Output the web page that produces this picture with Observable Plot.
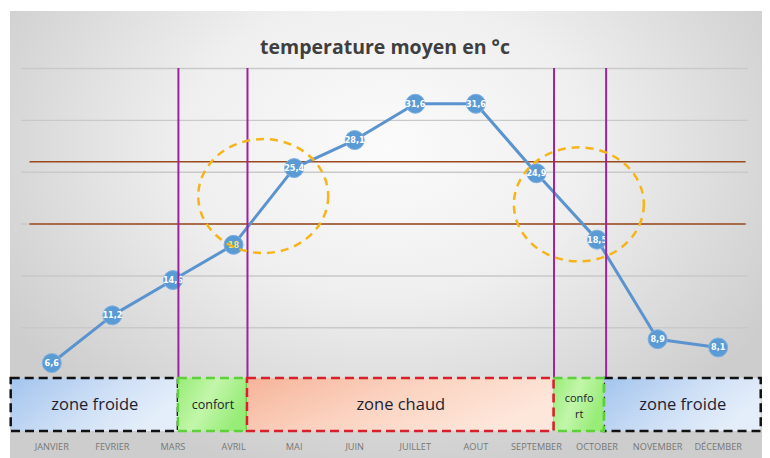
<!DOCTYPE html>
<html>
<head>
<meta charset="utf-8">
<script src="https://cdn.jsdelivr.net/npm/d3@7"></script>
<script src="https://cdn.jsdelivr.net/npm/@observablehq/plot@0.6"></script>
<style>
  html, body { margin: 0; padding: 0; background: #ffffff; }
  #wrap { position: relative; width: 770px; height: 458px; overflow: hidden; }
  #bg { position: absolute; left: 10px; top: 11px; width: 752px; height: 447px;
        background: radial-gradient(ellipse 60% 75% at 50% 30%, #fbfbfb 0%, #efefef 45%, #d6d6d6 85%, #cdcdcd 100%); }
  #chart { position: absolute; left: 0; top: 0; }
</style>
</head>
<body>
<div id="wrap"><div id="bg"></div><div id="chart"></div></div>
<script>
// ---- data ----
const title = "temperature moyen en °c";
const months = ["JANVIER","FEVRIER","MARS","AVRIL","MAI","JUIN","JUILLET","AOUT","SEPTEMBER","OCTOBER","NOVEMBER","DÉCEMBER"];
const temps = [6.6, 11.2, 14.6, 18, 25.4, 28.1, 31.6, 31.6, 24.9, 18.5, 8.9, 8.1];
const gridTicks = [5, 10, 15, 20, 25, 30, 35];
const thresholds = [20, 26];
const thresholdFrom = -0.36, thresholdTo = 11.46;      // month-index extent of the brown lines
const dividers = [2.09, 3.23, 8.29, 9.15];              // purple verticals, month-index units
const zoneNames  = ["zone froide", "confort", "zone chaud", "confo\nrt", "zone froide"];
const zoneKinds  = ["froide", "confort", "chaud", "confort", "froide"];
const zoneStarts = [-0.67, 2.09, 3.23, 8.29, 9.12];
const zoneEnds   = [2.09, 3.23, 8.29, 9.12, 11.71];
const zoneTop = 5.1;
const ellipseX = [3.49, 8.70];
const ellipseY = [22.7, 21.9];

// ---- tables built from the arrays ----
const pts = months.map((m, i) => ({i, month: m, t: temps[i], label: String(temps[i]).replace(".", ",")}));
const zones = zoneNames.map((n, k) => ({name: n, kind: zoneKinds[k], x1: zoneStarts[k], x2: zoneEnds[k], xm: (zoneStarts[k] + zoneEnds[k]) / 2}));
const ells = ellipseX.map((x, k) => ({x, y: ellipseY[k]}));

const zoneStyle = {
  froide:  {fill: "url(#gFroide)",  stroke: "#111111"},
  confort: {fill: "url(#gConfort)", stroke: "#5fcf3c"},
  chaud:   {fill: "url(#gChaud)",   stroke: "#d8202c"}
};

const plot = Plot.plot({
  width: 770,
  height: 458,
  marginLeft: 21,
  marginRight: 22,
  marginTop: 68,
  marginBottom: 27,
  style: {background: "transparent", fontFamily: "'Open Sans', sans-serif", overflow: "visible"},
  x: {type: "linear", domain: [-0.5, 11.5], axis: null},
  y: {domain: [0, 35], axis: null},
  marks: [
    Plot.ruleY(gridTicks, {stroke: "#c9c9c9", strokeWidth: 1.4}),
    Plot.ruleY(thresholds, {x1: thresholdFrom, x2: thresholdTo, stroke: "#9a4a1c", strokeWidth: 1.5}),
    Plot.line(pts, {x: "i", y: "t", stroke: "#5b93cf", strokeWidth: 3}),
    Plot.dot(pts, {x: "i", y: "t", r: 9.5, fill: "#5b9bd5", stroke: "#7fb0e0", strokeWidth: 1}),
    Plot.text(pts, {x: "i", y: "t", text: "label", fill: d => d.t === 18 ? "#f2e27a" : "#ffffff",
      fontSize: 9, fontWeight: "bold", fontFamily: "'Liberation Sans Narrow', 'DejaVu Sans Condensed', sans-serif"}),
    Plot.ruleX(dividers, {y1: 0, y2: 35, stroke: "#a0229a", strokeWidth: 2}),
    Plot.dot(ells, {x: "x", y: "y", r: 57, fill: "none", stroke: "#f5b41a", strokeWidth: 2.5, strokeDasharray: "8,6"}),
    ...["froide", "confort", "chaud"].map(k =>
      Plot.rect(zones.filter(z => z.kind === k), {x1: "x1", x2: "x2", y1: 0, y2: zoneTop,
        fill: zoneStyle[k].fill, stroke: zoneStyle[k].stroke, strokeWidth: 2.5, strokeDasharray: "9,5"})),
    Plot.text(zones.filter(z => z.kind !== "confort"), {x: "xm", y: zoneTop / 2, text: "name", fontSize: 16.5, fill: "#1e2230"}),
    Plot.text(zones.filter(z => z.name === "confort"), {x: "xm", y: zoneTop / 2, text: "name", fontSize: 12.5, fill: "#1e2230"}),
    Plot.text(zones.filter(z => z.name === "confo\nrt"), {x: "xm", y: zoneTop / 2, text: "name", fontSize: 11, lineHeight: 1.4, fill: "#1e2230"}),
    Plot.text(months, {x: (d, i) => i, frameAnchor: "bottom", dy: 18, text: d => d, fontSize: 9.2, fill: "#777777"}),
    Plot.text([title], {frameAnchor: "top", dy: -28, text: d => d, fontSize: 19.5, fontWeight: "bold", fill: "#3f3f3f"})
  ]
});

// gradients for the zone boxes
const svg = d3.select(plot);
const defs = svg.insert("defs", ":first-child");
function grad(id, stops) {
  const g = defs.append("linearGradient").attr("id", id).attr("x1", 0).attr("x2", 1).attr("y1", 0).attr("y2", 0.4);
  stops.forEach(([o, c]) => g.append("stop").attr("offset", o).attr("stop-color", c));
}
grad("gFroide", [[0, "#a3c4ee"], [0.6, "#cfe0f6"], [1, "#e4eefa"]]);
grad("gConfort", [[0, "#98ec78"], [0.5, "#c2f6aa"], [1, "#98ec78"]]);
grad("gChaud", [[0, "#f6b49a"], [0.5, "#fbd2bf"], [1, "#fde6da"]]);

// stretch the big dashed circles into ellipses
svg.selectAll("circle").filter(function() { return +this.getAttribute("r") > 30; }).each(function() {
  const c = d3.select(this);
  const cx = +c.attr("cx"), cy = +c.attr("cy");
  const tr = c.attr("transform") || "";
  c.attr("vector-effect", "non-scaling-stroke")
   .attr("transform", `${tr} translate(${cx},${cy}) scale(1.14,1) translate(${-cx},${-cy})`);
});

document.getElementById("chart").appendChild(plot);
</script>
</body>
</html>
